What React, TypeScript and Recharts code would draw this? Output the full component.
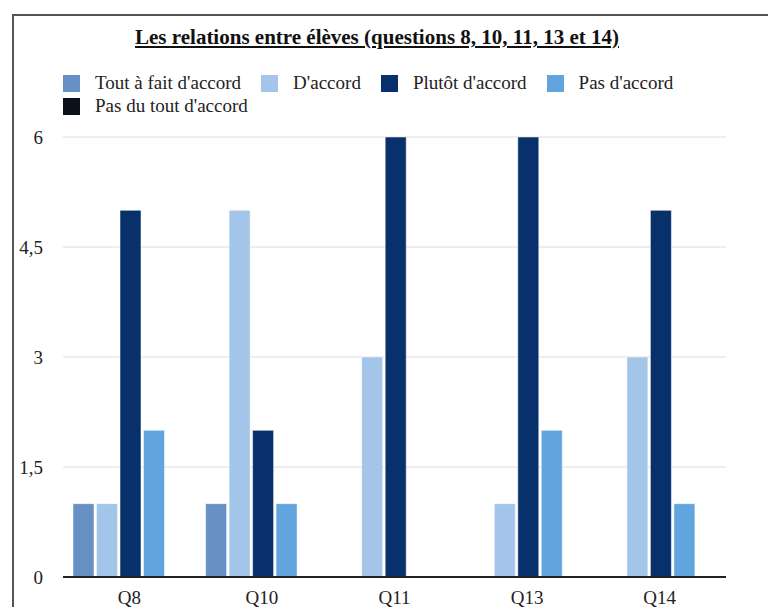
import { BarChart, Bar, XAxis, YAxis, CartesianGrid } from "recharts";

const questions = ["Q8", "Q10", "Q11", "Q13", "Q14"];
const toutAFait = [1, 1, 0, 0, 0];
const dAccord = [1, 5, 3, 1, 3];
const plutot = [5, 2, 6, 6, 5];
const pasDAccord = [2, 1, 0, 2, 1];
const pasDuTout = [0, 0, 0, 0, 0];
const yTicks = [0, 1.5, 3, 4.5, 6];

const series = [
  { key: "toutAFait", name: "Tout à fait d'accord", color: "#6790c4", values: toutAFait },
  { key: "dAccord", name: "D'accord", color: "#a2c5e9", values: dAccord },
  { key: "plutot", name: "Plutôt d'accord", color: "#08316b", values: plutot },
  { key: "pasDAccord", name: "Pas d'accord", color: "#62a4dd", values: pasDAccord },
  { key: "pasDuTout", name: "Pas du tout d'accord", color: "#0a1118", values: pasDuTout },
];

const data = questions.map((q, i) => {
  const row: any = { q };
  series.forEach((s) => (row[s.key] = s.values[i]));
  return row;
});

const serif = "'Liberation Serif', 'DejaVu Serif', serif";

export default function App() {
  return (
    <div
      style={{
        position: "relative",
        width: 776,
        height: 615,
        margin: -8,
        overflow: "hidden",
        background: "#fff",
        fontFamily: serif,
      }}
    >
      {/* outer frame, bottom edge cut off like the original */}
      <div
        style={{
          position: "absolute",
          left: 12,
          top: 14,
          width: 756,
          height: 640,
          border: "2px solid #555",
        }}
      />
      <div
        style={{
          position: "absolute",
          top: 25,
          left: -11,
          width: 776,
          textAlign: "center",
          fontSize: 21,
          fontWeight: "bold",
          textDecoration: "underline",
          color: "#111",
          fontFamily: serif,
        }}
      >
        Les relations entre élèves (questions 8, 10, 11, 13 et 14)
      </div>

      <div
        style={{
          position: "absolute",
          top: 73,
          left: 63,
          width: 680,
          display: "flex",
          flexWrap: "wrap",
          rowGap: 3,
          fontSize: 19,
          color: "#222",
          fontFamily: serif,
        }}
      >
        {series.map((s) => (
          <div
            key={s.key}
            style={{ display: "flex", alignItems: "center", height: 20, marginRight: 20 }}
          >
            <span
              style={{
                width: 17,
                height: 17,
                background: s.color,
                marginRight: 15,
                display: "inline-block",
              }}
            />
            {s.name}
          </div>
        ))}
      </div>

      <div style={{ position: "absolute", left: 0, top: 0 }}>
        <BarChart
          width={776}
          height={615}
          data={data}
          margin={{ top: 137, right: 50, bottom: 0, left: 0 }}
          barCategoryGap={10}
          barGap={2.5}
        >
          <CartesianGrid stroke="#dcdcdc" vertical={false} />
          <XAxis
            dataKey="q"
            height={38}
            axisLine={{ stroke: "#222", strokeWidth: 2 }}
            tickLine={false}
            tickSize={0}
            tickMargin={14}
            tick={{ fill: "#222", fontSize: 19, fontFamily: serif }}
          />
          <YAxis
            width={63}
            domain={[0, 6]}
            ticks={yTicks}
            axisLine={false}
            tickLine={false}
            tickSize={0}
            tickMargin={20}
            tickFormatter={(v) => String(v).replace(".", ",")}
            tick={{ fill: "#222", fontSize: 19, fontFamily: serif }}
          />
          {series.map((s) => (
            <Bar
              key={s.key}
              dataKey={s.key}
              name={s.name}
              fill={s.color}
              stroke="rgba(255,255,255,0.5)"
              strokeWidth={1}
              isAnimationActive={false}
            />
          ))}
        </BarChart>
      </div>
    </div>
  );
}
